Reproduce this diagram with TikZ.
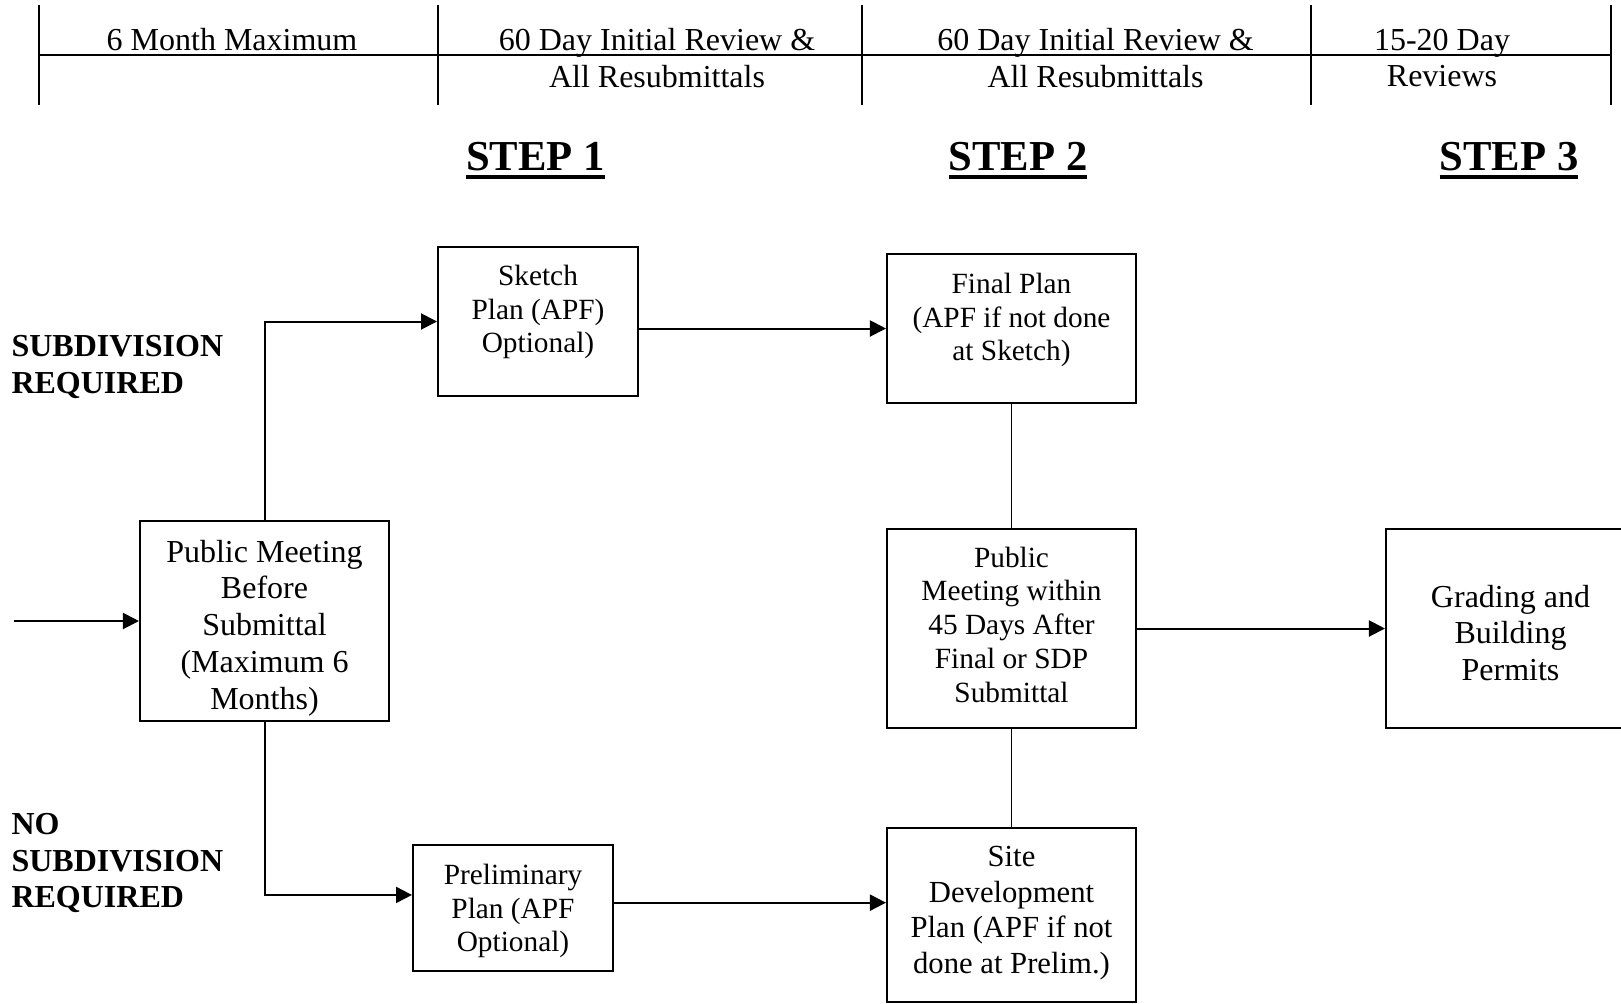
\documentclass[tikz,border=0pt]{standalone}
\usepackage{fontspec}
\setmainfont{Liberation Serif}
\usetikzlibrary{arrows.meta}
\def\smallbox{\fontsize{11}{12.65}\selectfont}
\def\largebox{\fontsize{12}{13.8}\selectfont}
\def\thickunder#1{\setbox0\hbox{#1}\rlap{\rule[-3.4pt]{\wd0}{1.5pt}}\box0}
\tikzset{
  planbox/.style={draw, line width=0.75pt, inner sep=0pt},
  boxtext/.style={inner sep=0pt, align=center},
  sidetext/.style={inner sep=0pt, align=left, anchor=west, font=\largebox\bfseries},
  steptext/.style={inner sep=0pt, anchor=base, font=\fontsize{16}{18.4}\selectfont\bfseries},
  flowarrow/.style={line width=0.75pt, -{Triangle[length=6pt,width=6pt]}},
  flowline/.style={line width=0.7pt}
}

\begin{document}
\begin{tikzpicture}[x=0.375pt, y=-0.375pt]
		%%%%% START %%%%%
		\useasboundingbox (0, 0) rectangle (1621, 1003);
		
		% time table along the top
		\draw[flowline] (39, 55) -- (1611, 55);
		\foreach \xcol in {39, 438, 862, 1311, 1611}
			\draw[flowline] (\xcol, 5) -- (\xcol, 105);
		\node[boxtext, font=\largebox] (timeA) at (232, 39.5) {6 Month Maximum};
		\node[boxtext, font=\largebox] (timeB) at (657, 58) {60 Day Initial Review \&\\All Resubmittals};
		\node[boxtext, font=\largebox] (timeC) at (1095.5, 58) {60 Day Initial Review \&\\All Resubmittals};
		\node[boxtext, font=\largebox] (timeD) at (1442, 58) {15-20 Day\\Reviews};
		
		\node[steptext] (stepA) at (535.5, 170) {\thickunder{STEP 1}};
		\node[steptext] (stepB) at (1018, 170) {\thickunder{STEP 2}};
		\node[steptext] (stepC) at (1509, 170) {\thickunder{STEP 3}};
		
		\node[sidetext] (subreq) at (11, 367) {SUBDIVISION\\REQUIRED};
		\node[sidetext] (nosubreq) at (11, 863) {NO\\SUBDIVISION\\REQUIRED};
		
		% boxes
		\node[planbox, minimum width=93.4pt, minimum height=75pt] (pmb) at (264.5, 621) {};
		\node[planbox, minimum width=75pt, minimum height=55.9pt] (sketch) at (538, 321.5) {};
		\node[planbox, minimum width=75pt, minimum height=47.1pt] (prelim) at (513, 908) {};
		\node[planbox, minimum width=93.4pt, minimum height=55.9pt] (final) at (1011.5, 328.5) {};
		\node[planbox, minimum width=93.4pt, minimum height=74.6pt] (pmw) at (1011.5, 628.5) {};
		\node[planbox, minimum width=93.4pt, minimum height=65.2pt] (site) at (1011.5, 915) {};
		\node[planbox, minimum width=93.4pt, minimum height=74.6pt] (grading) at (1510.5, 628.5) {};
		
		\node[boxtext, font=\largebox] (pmbtext) at (264.5, 628) {Public Meeting\\Before\\Submittal\\(Maximum 6\\Months)};
		\node[boxtext, font=\smallbox] (sketchtext) at (538, 312) {Sketch\\Plan (APF)\\Optional)};
		\node[boxtext, font=\smallbox] (prelimtext) at (513, 911) {Preliminary\\Plan (APF\\Optional)};
		\node[boxtext, font=\smallbox] (finaltext) at (1011.5, 320) {Final Plan\\(APF if not done\\at Sketch)};
		\node[boxtext, font=\smallbox] (pmwtext) at (1011.5, 624.5) {Public\\Meeting within\\45 Days After\\Final or SDP\\Submittal};
		\node[boxtext, font=\fontsize{11.5}{13.3}\selectfont] (sitetext) at (1011.5, 913) {Site\\Development\\Plan (APF if not\\done at Prelim.)};
		\node[boxtext, font=\largebox] (gradingtext) at (1510.5, 633) {Grading and\\Building\\Permits};
		
		% connectors
		\coordinate (entry) at (14, 621);
		\draw[flowarrow] (entry) -- (pmb);
		\draw[flowarrow] (pmb) |- (sketch);
		\draw[flowarrow] (pmb) |- ([yshift=4.9pt]prelim.west);
		\draw[flowarrow] (sketch.east |- final.west) -- (final.west);
		\draw[flowarrow] ([yshift=2pt]prelim.east) -- ([yshift=2pt]prelim.east -| site.west);
		\draw[flowline] (final) -- (pmw);
		\draw[flowline] (pmw) -- (site);
		\draw[flowarrow] (pmw) -- (grading);
		
		%%%%% END %%%%%
	\end{tikzpicture}
\end{document}
